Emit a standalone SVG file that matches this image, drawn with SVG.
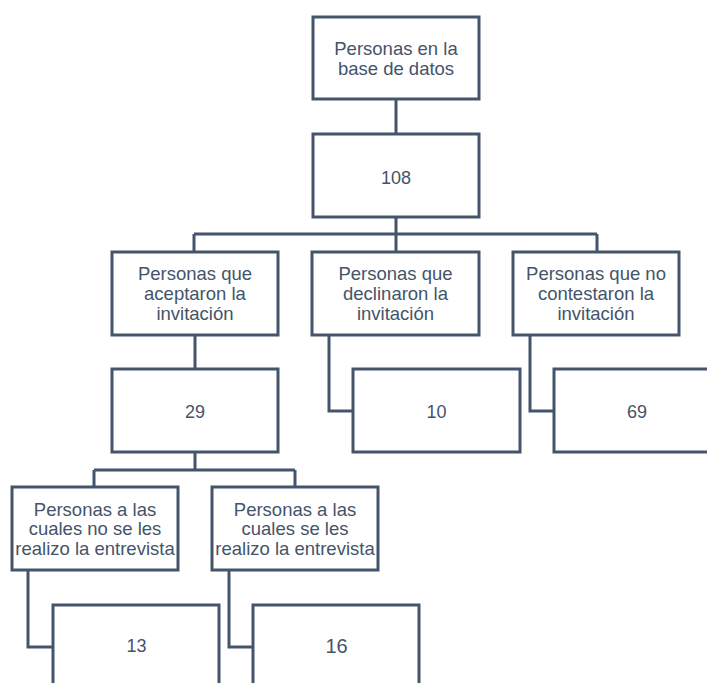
<svg xmlns="http://www.w3.org/2000/svg" width="707" height="683" viewBox="0 0 707 683">
  <style>
    .box { fill: #ffffff; stroke: #44546a; stroke-width: 3; }
    .link { fill: none; stroke: #44546a; stroke-width: 3; }
    text { font-family: "Liberation Sans", Arial, sans-serif; font-size: 18.5px; fill: #44546a; text-anchor: middle; }
    .num { font-size: 18px; }
  </style>
  <rect width="707" height="683" fill="#ffffff"/>

  <g id="connectors">
    <path class="link" d="M396 99 V134"/>
    <path class="link" d="M396 217 V234 M194 234 H597 M194 234 V252 M396 234 V252 M597 234 V252"/>
    <path class="link" d="M195 335 V369"/>
    <path class="link" d="M329 335 V411 H353"/>
    <path class="link" d="M530 335 V411 H554"/>
    <path class="link" d="M195 452 V470 M94 470 H295 M94 470 V487 M295 470 V487"/>
    <path class="link" d="M28 570 V647 H53"/>
    <path class="link" d="M229 570 V647 H253"/>
  </g>

  <g id="n-base">
    <rect class="box" x="313" y="17" width="166" height="82"/>
    <text x="396" y="55">Personas en la</text>
    <text x="396" y="75">base de datos</text>
  </g>
  <g id="n-108">
    <rect class="box" x="313" y="134" width="166" height="83"/>
    <text class="num" x="396" y="183.5">108</text>
  </g>

  <g id="n-aceptaron">
    <rect class="box" x="112" y="252" width="166" height="83"/>
    <text x="195" y="280">Personas que</text>
    <text x="195" y="300">aceptaron la</text>
    <text x="195" y="320">invitación</text>
  </g>
  <g id="n-declinaron">
    <rect class="box" x="312" y="252" width="167" height="83"/>
    <text x="395.5" y="280">Personas que</text>
    <text x="395.5" y="300">declinaron la</text>
    <text x="395.5" y="320">invitación</text>
  </g>
  <g id="n-nocontestaron">
    <rect class="box" x="513" y="252" width="166" height="83"/>
    <text x="596" y="280">Personas que no</text>
    <text x="596" y="300">contestaron la</text>
    <text x="596" y="320">invitación</text>
  </g>

  <g id="n-29">
    <rect class="box" x="112" y="369" width="166" height="83"/>
    <text class="num" x="195" y="417.5">29</text>
  </g>
  <g id="n-10">
    <rect class="box" x="353" y="369" width="167" height="83"/>
    <text class="num" x="436.5" y="417.5">10</text>
  </g>
  <g id="n-69">
    <rect class="box" x="554" y="369" width="166" height="83"/>
    <text class="num" x="637" y="417.5">69</text>
  </g>

  <g id="n-noentrevista">
    <rect class="box" x="12" y="487" width="166" height="83"/>
    <text x="95" y="515.5">Personas a las</text>
    <text x="95" y="535">cuales no se les</text>
    <text x="95" y="554.5">realizo la entrevista</text>
  </g>
  <g id="n-entrevista">
    <rect class="box" x="212" y="487" width="166" height="83"/>
    <text x="295" y="515.5">Personas a las</text>
    <text x="295" y="535">cuales se les</text>
    <text x="295" y="554.5">realizo la entrevista</text>
  </g>

  <g id="n-13">
    <rect class="box" x="53" y="605" width="166" height="83"/>
    <text class="num" x="136.5" y="652">13</text>
  </g>
  <g id="n-16">
    <rect class="box" x="253" y="605" width="166" height="83"/>
    <text class="num" x="336.5" y="653" style="font-size:20px">16</text>
  </g>
</svg>
